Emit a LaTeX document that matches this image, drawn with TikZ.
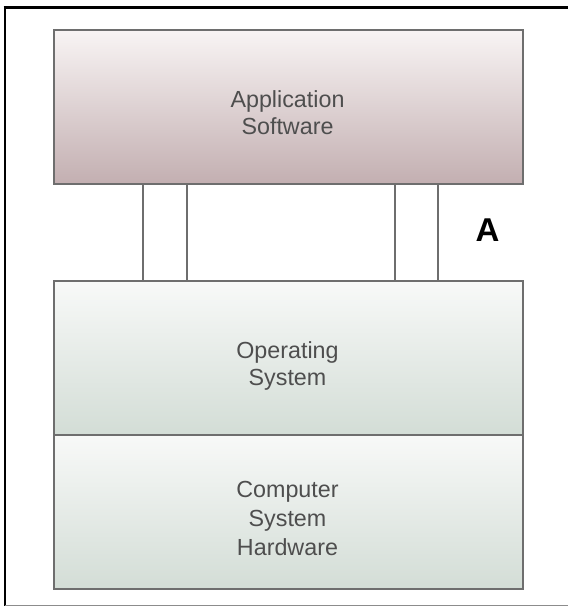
\documentclass[tikz,border=0pt]{standalone}
\usepackage{fontspec}
\setmainfont{Liberation Sans}
\begin{document}
\begin{tikzpicture}[x=1pt,y=-1pt,
  layerbox/.style={draw=boxline,line width=1.5pt,minimum width=469pt,minimum height=154pt,inner sep=0pt,anchor=north west},
  layertext/.style={text=labeltext,align=center,font=\fontsize{23.3}{27}\selectfont,anchor=base,inner sep=0pt},
  pillar/.style={draw=boxline,line width=1.4pt}]
\definecolor{boxline}{HTML}{6E6E6E}
\definecolor{labeltext}{HTML}{4E4E4E}
\definecolor{apptop}{HTML}{F8F4F4}
\definecolor{appbot}{HTML}{C3AFB1}
\definecolor{ostop}{HTML}{F8F9F8}
\definecolor{osbot}{HTML}{D3DDD6}
\useasboundingbox (0,0) rectangle (568,608);
\fill[white] (0,0) rectangle (568,608);
% frame of the figure
\draw[black,line width=3pt] (3.5,7.5) -- (568,7.5);
\draw[black,line width=2.5pt] (5,6) -- (5,606);
\draw[black!45,line width=1pt] (5,605.5) -- (568,605.5);
% the three layers
\node[layerbox,top color=apptop,bottom color=appbot] (app) at (53,29) {};
\node[layerbox,top color=ostop,bottom color=osbot] (os) at (53,280) {};
\node[layerbox,top color=ostop,bottom color=osbot] (hw) at (53,434) {};
% interface pillars between application and operating system
\coordinate (p1) at (143,0);
\coordinate (p2) at (187,0);
\coordinate (p3) at (395,0);
\coordinate (p4) at (438,0);
\foreach \p in {p1,p2,p3,p4}
  \draw[pillar] (app.south -| \p) -- (os.north -| \p);
% labels (anchored at the baseline of the last line)
\node[layertext] (apptext) at (287.5,134) {Application\\Software};
\node[layertext] (ostext) at (287.5,385) {Operating\\System};
\node[layertext,font=\fontsize{23.3}{29}\selectfont] (hwtext) at (287.5,555) {Computer\\System\\Hardware};
\node[anchor=base,inner sep=0pt,font=\fontsize{33}{36}\selectfont\bfseries] (alabel) at (487.5,241) {A};
\end{tikzpicture}
\end{document}
